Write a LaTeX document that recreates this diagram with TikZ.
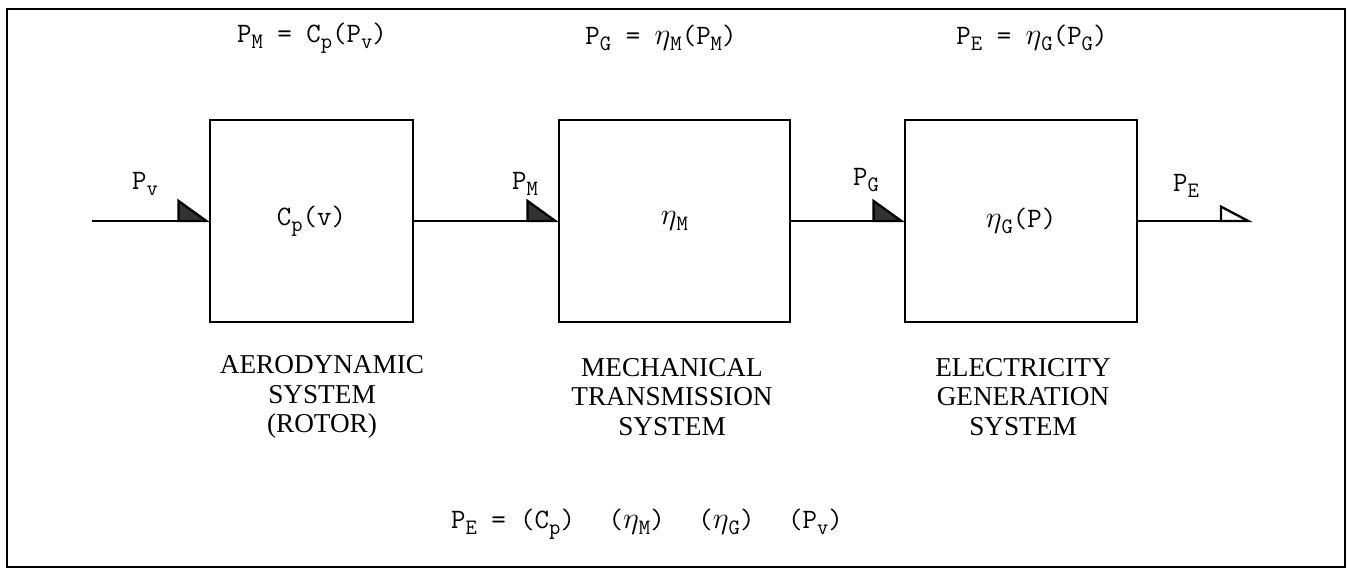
\documentclass[tikz,border=0pt]{standalone}
\usepackage{fontspec}
\newfontfamily\labelfont{Liberation Serif}
\usepackage{tikz}
\usetikzlibrary{arrows.meta}

\newcommand{\lo}[1]{\raisebox{-0.5ex}{\fontsize{12.5}{13}\selectfont #1}}
\newcommand{\et}{$\eta$}

\tikzset{
  blk/.style={draw, line width=1.3pt, inner sep=0pt, outer sep=0pt,
    minimum height=4.04cm, font=\ttfamily\fontsize{16}{18}\selectfont},
  eqn/.style={font=\ttfamily\fontsize{16}{18}\selectfont, inner sep=1pt},
  lbl/.style={align=center, font=\labelfont\fontsize{15.5}{17}\selectfont, inner sep=1pt},
  flow/.style={line width=1.3pt,
    -{Triangle[harpoon, length=0.62cm, width=0.88cm, fill=black!80]}},
  outflow/.style={line width=1.3pt,
    -{Triangle[harpoon, open, length=0.62cm, width=0.64cm, fill=white]}}
}

\begin{document}
\begin{tikzpicture}[x=0.02cm, y=-0.02cm]
    \useasboundingbox (0,0) rectangle (1347,569);
    % Frame
    \draw[line width=1.2pt] (7,9) rectangle (1345,567);

    % Three blocks
    \node[blk, minimum width=4.06cm] (rotor) at (311.5,221) {C\lo{p}(v)};
    \node[blk, minimum width=4.62cm] (trans) at (674.5,221) {\et\lo{M}};
    \node[blk, minimum width=4.64cm] (gen) at (1021,221) {\et\lo{G}(P)};

    % Free ends
    \coordinate (src) at (92,221);
    \coordinate (snk) at (1253,221);

    % Power flow
    \draw[flow] (src) -- (rotor.west);
    \draw[flow] (rotor.east) -- (trans.west);
    \draw[flow] (trans.east) -- (gen.west);
    \draw[outflow] (gen.east) -- (snk);

    % Flow labels
    \node[eqn] (pv) at (145,184) {P\lo{v}};
    \node[eqn] (pm) at (525,184) {P\lo{M}};
    \node[eqn] (pg) at (866,180) {P\lo{G}};
    \node[eqn] (pe) at (1186,186) {P\lo{E}};

    % Equations above
    \node[eqn] (eq1) at (312,38) {P\lo{M} = C\lo{p}(P\lo{v})};
    \node[eqn] (eq2) at (661,38) {P\lo{G} = \et\lo{M}(P\lo{M})};
    \node[eqn] (eq3) at (1032,38) {P\lo{E} = \et\lo{G}(P\lo{G})};

    % Names below
    \node[lbl] (n1) at (322,397) {AERODYNAMIC\\SYSTEM\\(ROTOR)};
    \node[lbl] (n2) at (672,397) {MECHANICAL\\TRANSMISSION\\SYSTEM};
    \node[lbl] (n3) at (1023,397) {ELECTRICITY\\GENERATION\\SYSTEM};

    % Overall
    \node[eqn] (tot) at (647,524) {P\lo{E} = (C\lo{p})\hspace{1.2em}(\et\lo{M})\hspace{1.2em}(\et\lo{G})\hspace{1.2em}(P\lo{v})};
\end{tikzpicture}
\end{document}
